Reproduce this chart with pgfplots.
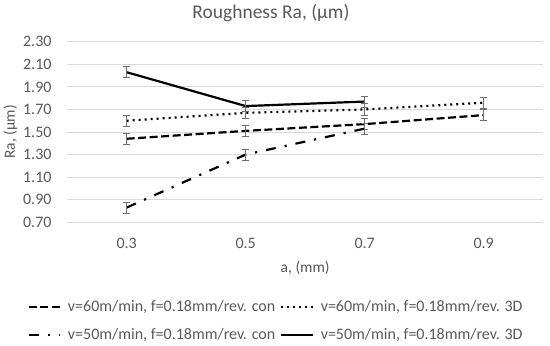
\documentclass[border=0pt]{standalone}
\usepackage{fontspec}
\setmainfont{Carlito}
\usepackage{pgfplots}
\pgfplotsset{compat=1.18}
\definecolor{txtgray}{HTML}{595959}
\definecolor{gridgray}{HTML}{D9D9D9}
\definecolor{errgray}{HTML}{6E6E6E}
\begin{document}
\begin{tikzpicture}
\useasboundingbox (0,0) rectangle (550pt,346pt);
\begin{axis}[
  at={(67.2pt,123.8pt)}, anchor=south west,
  scale only axis, width=476pt, height=180.4pt,
  xmin=-0.5, xmax=3.5, ymin=0.70, ymax=2.30,
  xtick={0,1,2,3}, xticklabels={0.3,0.5,0.7,0.9},
  ytick={0.7,0.9,1.1,1.3,1.5,1.7,1.9,2.1,2.3},
  /pgf/number format/assume math mode=true,
  yticklabel style={/pgf/number format/fixed, /pgf/number format/fixed zerofill, /pgf/number format/precision=2},
  ymajorgrids, grid style={color=gridgray, line width=0.9pt},
  axis line style={draw=none}, major tick length=0pt,
  tick label style={font=\fontsize{16}{19}\selectfont, text=txtgray, inner sep=0pt},
  xticklabel style={anchor=center, yshift=-21pt},
  yticklabel style={anchor=east, xshift=-15.5pt},
  title={Roughness Ra, (µm)},
  every axis title shift=0pt,
  title style={at={(0.428,1.16)}, anchor=center, yshift=0pt, font=\fontsize{19.5}{22}\selectfont, text=txtgray},
  xlabel={a, (mm)}, ylabel={Ra, (µm)},
  xlabel style={at={(0.5,-0.254)}, anchor=center, font=\fontsize{15.5}{18}\selectfont, text=txtgray},
  ylabel style={at={(-0.119,0.5)}, anchor=center, inner sep=0pt, font=\fontsize{15.5}{18}\selectfont, text=txtgray},
  legend columns=2,
  legend image code/.code={\draw[#1] (0pt,0pt) -- (31.6pt,0pt);},
  legend style={at={(0.4366,-0.549)}, anchor=center, draw=none, fill=none,
    font=\fontsize{16}{19}\selectfont, text=txtgray,
    nodes={inner xsep=0pt, inner ysep=0pt, text height=12pt, text depth=4pt},
    row sep=11.7pt, column sep=6.7pt,
    /tikz/every even column/.append style={column sep=5pt}},
  legend cell align=left,
  every axis plot/.append style={line width=2.2pt, black, no markers},
  error bars/y dir=both, error bars/y explicit,
  error bars/error bar style={solid, line width=0.8pt, color=errgray},
  error bars/error mark options={solid, rotate=90, mark size=3.5pt, line width=0.8pt, color=errgray},
]
% v=60 con (dashed)
\addplot[dash pattern=on 8pt off 3.5pt] coordinates {
  (0,1.44) +- (0,0.05)
  (1,1.51) +- (0,0.05)
  (2,1.57) +- (0,0.05)
  (3,1.65) +- (0,0.05)
};
\addlegendentry{v=60m/min, f=0.18mm/rev. con}
% v=60 3D (dotted)
\addplot[dash pattern=on 2pt off 4pt] coordinates {
  (0,1.60) +- (0,0.05)
  (1,1.67) +- (0,0.05)
  (2,1.70) +- (0,0.05)
  (3,1.76) +- (0,0.05)
};
\addlegendentry{v=60m/min, f=0.18mm/rev. 3D}
% v=50 con (dash dot)
\addplot[dash pattern=on 10pt off 9pt on 2.2pt off 9pt] coordinates {
  (0,0.83) +- (0,0.05)
  (1,1.30) +- (0,0.05)
  (2,1.53) +- (0,0.05)
};
\addlegendentry{v=50m/min, f=0.18mm/rev. con}
% v=50 3D (solid)
\addplot[solid] coordinates {
  (0,2.03) +- (0,0.05)
  (1,1.73) +- (0,0.05)
  (2,1.77) +- (0,0.05)
};
\addlegendentry{v=50m/min, f=0.18mm/rev. 3D}
\end{axis}
\end{tikzpicture}
\end{document}
